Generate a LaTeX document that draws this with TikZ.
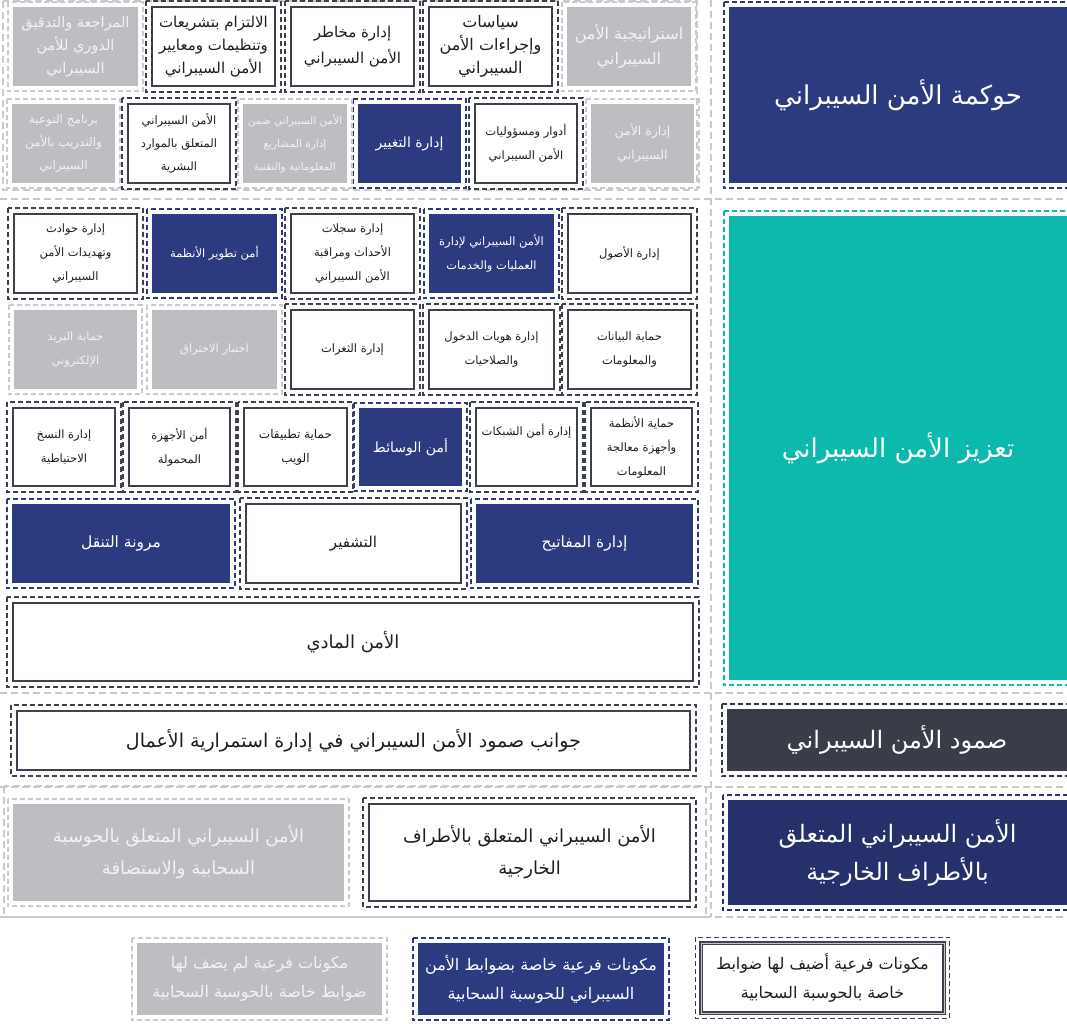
\documentclass[tikz,border=0pt]{standalone}
\usepackage{fontspec}
\newfontfamily\arabicfont[Script=Arabic]{DejaVu Sans}
\TeXXeTstate=1
\newcommand\ar[1]{\beginR #1\endR}
\definecolor{navy}{HTML}{2C3A7F}
\definecolor{navyb}{HTML}{26316B}
\definecolor{tealc}{HTML}{0CB9AD}
\definecolor{dgray}{HTML}{393D47}
\definecolor{gfill}{HTML}{BDBEC1}
\definecolor{gtext}{HTML}{F3F3F4}
\definecolor{bdr}{HTML}{3C414D}
\definecolor{txt}{HTML}{1E1E1E}
\definecolor{gline}{HTML}{CBCBCD}
\tikzset{
  fs/.style 2 args={font=\arabicfont\fontsize{#1}{#2}\selectfont},
  base/.style={align=center, inner sep=1pt},
  wbox/.style={base, draw=bdr, line width=2pt, fill=white, text=txt},
  nbox/.style={base, fill=navy, text=white},
  mbox/.style={base, fill=navyb, text=white},
  gbox/.style={base, fill=gfill, text=gtext},
  tbox/.style={base, fill=tealc, text=white},
  dbox/.style={base, fill=dgray, text=white},
  lbox/.style={base, draw=bdr, double=gray!45, double distance=0.8pt, line width=1.3pt, fill=white, text=txt},
  dfr/.style={line width=1.5pt, dash pattern=on 5pt off 3pt},
  wboxframe/.style={dfr, draw=bdr},
  lboxframe/.style={dfr, draw=bdr},
  nboxframe/.style={dfr, draw=navy},
  mboxframe/.style={dfr, draw=navyb},
  gboxframe/.style={dfr, draw=gline},
  tboxframe/.style={dfr, draw=tealc},
  dboxframe/.style={dfr, draw=dgray},
  grid/.style={draw=gline, line width=1.5pt, dash pattern=on 7pt off 4pt},
}
% #1 name, #2 kind, #3 font {size}{skip}, #4 x1, #5 y1, #6 x2, #7 y2, #8 text
\newcommand\bx[8]{%
  \node[#2, fs=#3, minimum width={#6-#4}, minimum height={#7-#5}] (#1) at ({(#4+#6)/2},{(#5+#7)/2}) {#8};
  \draw[#2frame] ([shift={(-5,-5)}]#1.north west) rectangle ([shift={(5,5)}]#1.south east);
}
\begin{document}
\begin{tikzpicture}[x=1pt,y=-1pt]
\useasboundingbox[fill=white] (0,0) rectangle (1067,1023);
% grid of light dashed lines
\coordinate (gA) at (711,0); \coordinate (gB) at (711,917);
\draw[grid] (gA) -- (gB);
\draw[grid] (3,1) rectangle (697,190);
\foreach \yy in {199,693,787,917} { \draw[grid] (0,\yy) -- (1067,\yy); }
% ===== Section 1: governance =====
\bx{hgov}{nbox}{{26}{34}}{729}{7}{1067}{183}{\ar{حوكمة الأمن السيبراني}}
\bx{g11}{gbox}{{16}{25}}{567}{7}{691}{86}{\ar{استراتيجية الأمن}\\\ar{السيبراني}}
\bx{g12}{wbox}{{16}{23}}{429}{7}{552}{86}{\ar{سياسات}\\\ar{وإجراءات الأمن}\\\ar{السيبراني}}
\bx{g13}{wbox}{{15}{26}}{291}{7}{414}{86}{\ar{إدارة مخاطر}\\\ar{الأمن السيبراني}}
\bx{g14}{wbox}{{15}{23}}{152}{7}{275}{86}{\ar{الالتزام بتشريعات}\\\ar{وتنظيمات ومعايير}\\\ar{الأمن السيبراني}}
\bx{g15}{gbox}{{14.5}{23}}{13}{7}{138}{86}{\ar{المراجعة والتدقيق}\\\ar{الدوري للأمن}\\\ar{السيبراني}}
\bx{g21}{gbox}{{12.5}{24}}{591}{104}{694}{183}{\ar{إدارة الأمن}\\\ar{السيبراني}}
\bx{g22}{wbox}{{11.5}{24}}{475}{104}{577}{183}{\ar{أدوار ومسؤوليات}\\\ar{الأمن السيبراني}}
\bx{g23}{nbox}{{14}{20}}{358}{104}{461}{183}{\ar{إدارة التغيير}}
\bx{g24}{gbox}{{10.5}{23}}{243}{104}{347}{183}{\ar{الأمن السيبراني ضمن}\\\ar{إدارة المشاريع}\\\ar{المعلوماتية والتقنية}}
\bx{g25}{wbox}{{11.5}{23}}{128}{104}{230}{183}{\ar{الأمن السيبراني}\\\ar{المتعلق بالموارد}\\\ar{البشرية}}
\bx{g26}{gbox}{{12}{23}}{12}{104}{115}{183}{\ar{برنامج التوعية}\\\ar{والتدريب بالأمن}\\\ar{السيبراني}}
% ===== Section 2: enhancement =====
\bx{henh}{tbox}{{26}{34}}{729}{216}{1067}{680}{\ar{تعزيز الأمن السيبراني}}
\bx{e11}{wbox}{{11.5}{24}}{568}{214}{691}{293}{\ar{إدارة الأصول}}
\bx{e12}{nbox}{{11.5}{24}}{429}{214}{554}{293}{\ar{الأمن السيبراني لإدارة}\\\ar{العمليات والخدمات}}
\bx{e13}{wbox}{{11.5}{24}}{291}{214}{414}{293}{\ar{إدارة سجلات}\\\ar{الأحداث ومراقبة}\\\ar{الأمن السيبراني}}
\bx{e14}{nbox}{{11.5}{24}}{152}{214}{277}{293}{\ar{أمن تطوير الأنظمة}}
\bx{e15}{wbox}{{11.5}{24}}{14}{214}{137}{293}{\ar{إدارة حوادث}\\\ar{وتهديدات الأمن}\\\ar{السيبراني}}
\bx{e21}{wbox}{{11.5}{24}}{568}{310}{691}{389}{\ar{حماية البيانات}\\\ar{والمعلومات}}
\bx{e22}{wbox}{{11.5}{24}}{429}{310}{554}{389}{\ar{إدارة هويات الدخول}\\\ar{والصلاحيات}}
\bx{e23}{wbox}{{11.5}{24}}{291}{310}{414}{389}{\ar{إدارة الثغرات}}
\bx{e24}{gbox}{{11.5}{24}}{152}{310}{277}{389}{\ar{اختبار الاختراق}}
\bx{e25}{gbox}{{11.5}{24}}{14}{310}{137}{389}{\ar{حماية البريد}\\\ar{الإلكتروني}}
\bx{e31}{wbox}{{11.5}{24}}{591}{408}{692}{486}{\ar{حماية الأنظمة}\\\ar{وأجهزة معالجة}\\\ar{المعلومات}}
\bx{e32}{wbox}{{11.5}{24}}{476}{408}{577}{486}{\ar{إدارة أمن الشبكات}\\[10pt]}
\bx{e33}{nbox}{{14}{24}}{359}{408}{462}{486}{\ar{أمن الوسائط}}
\bx{e34}{wbox}{{12}{24}}{244}{408}{347}{486}{\ar{حماية تطبيقات}\\\ar{الويب}}
\bx{e35}{wbox}{{11.5}{24}}{129}{408}{230}{486}{\ar{أمن الأجهزة}\\\ar{المحمولة}}
\bx{e36}{wbox}{{11.5}{24}}{13}{408}{115}{486}{\ar{إدارة النسخ}\\\ar{الاحتياطية}}
\bx{e41}{nbox}{{15.5}{24}}{476}{504}{693}{583}{\ar{إدارة المفاتيح}}
\bx{e42}{wbox}{{15}{24}}{246}{504}{461}{583}{\ar{التشفير}}
\bx{e43}{nbox}{{15.5}{24}}{12}{504}{230}{583}{\ar{مرونة التنقل}}
\bx{e51}{wbox}{{18}{24}}{13}{603}{693}{681}{\ar{الأمن المادي}}
% ===== Section 3: resilience =====
\bx{hres}{dbox}{{24}{32}}{727}{709}{1067}{771}{\ar{صمود الأمن السيبراني}}
\bx{r11}{wbox}{{19}{24}}{17}{711}{690}{770}{\ar{جوانب صمود الأمن السيبراني في إدارة استمرارية الأعمال}}
% ===== Section 4: third parties =====
\draw[grid] (4,786) rectangle (706,917);
\bx{hthp}{mbox}{{24}{38}}{728}{800}{1067}{905}{\ar{الأمن السيبراني المتعلق}\\\ar{بالأطراف الخارجية}}
\bx{t11}{wbox}{{18}{32}}{369}{804}{690}{901}{\ar{الأمن السيبراني المتعلق بالأطراف}\\\ar{الخارجية}}
\bx{t12}{gbox}{{18}{32}}{13}{804}{344}{901}{\ar{الأمن السيبراني المتعلق بالحوسبة}\\\ar{السحابية والاستضافة}}
% ===== Legend =====
\bx{lw}{lbox}{{16}{29}}{701}{943}{944}{1013}{\ar{مكونات فرعية أضيف لها ضوابط}\\\ar{خاصة بالحوسبة السحابية}}
\bx{ln}{nbox}{{16}{29}}{418}{943}{664}{1015}{\ar{مكونات فرعية خاصة بضوابط الأمن}\\\ar{السيبراني للحوسبة السحابية}}
\bx{lg}{gbox}{{16}{29}}{137}{943}{382}{1015}{\ar{مكونات فرعية لم يضف لها}\\\ar{ضوابط خاصة بالحوسبة السحابية}}
\end{tikzpicture}
\end{document}
